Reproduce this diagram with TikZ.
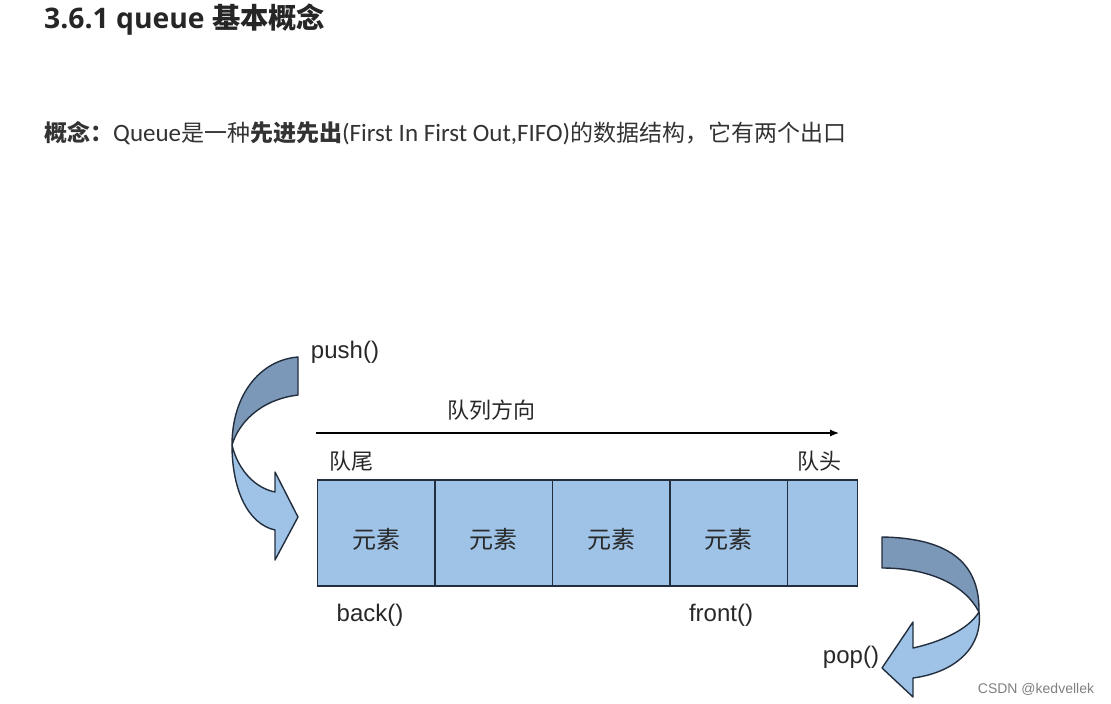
\documentclass[tikz,border=0pt]{standalone}
\usepackage{fontspec}
\setmainfont{Liberation Sans}
\newfontfamily\cjk{Noto Sans CJK SC}
\newfontfamily\headfont{Open Sans}
\newfontfamily\bodyfont{Carlito}
\usetikzlibrary{positioning,arrows.meta}

\definecolor{cellblue}{RGB}{158,195,230}
\definecolor{backblue}{RGB}{124,152,184}
\definecolor{edgeblue}{RGB}{34,46,62}
\definecolor{inkgray}{RGB}{40,40,40}
\newcommand\lat[1]{{\bodyfont\fontsize{25}{25}\selectfont #1}}

\begin{document}
\begin{tikzpicture}[
      x=1pt, y=-1pt,
      cell/.style={rectangle, draw=edgeblue, fill=cellblue, line width=1.4pt, minimum width=117.5pt, minimum height=106pt, inner sep=0pt, outer sep=0pt, text height=30pt, text depth=0pt, text=inkgray, font=\cjk\fontsize{24}{24}\selectfont},
      label/.style={inner sep=0pt, text=inkgray, font=\fontsize{24}{24}\selectfont},
      cjklabel/.style={inner sep=0pt, text=inkgray, font=\cjk\fontsize{22}{22}\selectfont},
      backpart/.style={draw=edgeblue, fill=backblue, line width=1.4pt, line join=round},
      frontpart/.style={draw=edgeblue, fill=cellblue, line width=1.4pt, line join=round},
      arrow/.style={-{Latex[length=9pt,width=7pt]}, line width=1.2pt}
    ]

    \useasboundingbox[fill=white] (0,0) rectangle (1111,704);

    % Heading and concept line
    \node[anchor=base west, inner sep=0pt, text=black!85] (title) at (44,28.5)
      {\headfont\bfseries\fontsize{28.3}{28}\selectfont 3.6.1 queue {\cjk 基本概念}};
    \node[anchor=base west, inner sep=0pt, text=black!80] (concept) at (44,141)
      {\cjk\fontsize{23}{23}\selectfont{\bfseries 概念：}\lat{Queue}是一种{\bfseries 先进先出}\lat{(First In First Out,FIFO)}的数据结构，它有两个出口};

    % Direction of the queue
    \coordinate (qstart) at (316,433);
    \coordinate (qend) at (839,433);
    \draw[arrow] (qstart) -- (qend);
    \node[cjklabel] (direction) at (491,410) {队列方向};
    \node[cjklabel] (rear) at (351,461) {队尾};
    \node[cjklabel] (head) at (819,461) {队头};

    % The cells
    \node[cell] (c1) at (376.25,533) {元素};
    \node[cell, right=0pt of c1] (c2) {元素};
    \node[cell, right=0pt of c2] (c3) {元素};
    \node[cell, right=0pt of c3] (c4) {元素};
    \node[cell, right=0pt of c4, minimum width=70pt] (c5) {};

    % Member functions
    \node[label] (push) at (345,352) {push()};
    \node[label] (back) at (370,615) {back()};
    \node[label] (front) at (721,615) {front()};
    \node[label] (pop) at (851,657) {pop()};

    % push arrow
    \draw[backpart] (298,357) .. controls (260,360) and (232,395) .. (232,445)
      .. controls (238,425) and (258,400) .. (298,395) -- cycle;
    \draw[frontpart] (232,445) .. controls (232,490) and (248,524) .. (275,530)
      -- (275,560) -- (298,517) -- (275,472) -- (275,492)
      .. controls (255,488) and (238,470) .. (232,445) -- cycle;

    % pop arrow
    \draw[backpart] (882,537) .. controls (945,538) and (980,560) .. (979,612)
      .. controls (965,585) and (930,568) .. (882,568) -- cycle;
    \draw[frontpart] (979,612) .. controls (983,645) and (958,672) .. (913,678)
      -- (913,697) -- (882,668) -- (913,622) -- (913,648)
      .. controls (940,642) and (968,630) .. (979,612) -- cycle;

    \node[text=gray, font=\fontsize{14}{14}\selectfont] (mark) at (1036,689) {CSDN @kedvellek};

  \end{tikzpicture}
\end{document}
